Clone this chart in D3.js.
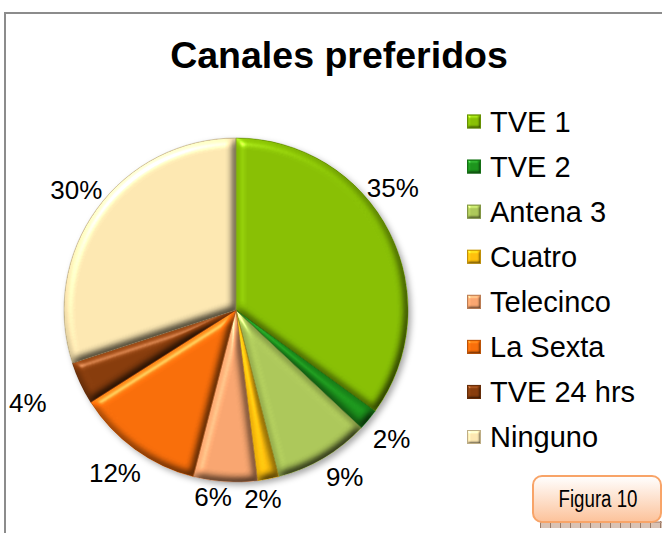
<!DOCTYPE html>
<html>
<head>
<meta charset="utf-8">
<script src="https://cdn.jsdelivr.net/npm/d3@7"></script>
<style>
  html, body { margin: 0; padding: 0; background: #fff; }
  svg { display: block; }
</style>
</head>
<body>
<svg id="chart" width="662" height="533"></svg>
<script>
// ---- data ----
const categories = ["TVE 1", "TVE 2", "Antena 3", "Cuatro", "Telecinco", "La Sexta", "TVE 24 hrs", "Ninguno"];
const values = [35, 2, 9, 2, 6, 12, 4, 30];
const percentLabels = ["35%", "2%", "9%", "2%", "6%", "12%", "4%", "30%"];
const colors = ["#88c004", "#1c941c", "#adc85a", "#ffc00c", "#f9a670", "#f96e0a", "#873c0c", "#fde8b2"];
const title = "Canales preferidos";
const figureTag = "Figura 10";

// ---- layout (label placement tweaks, degrees / px) ----
const labelAngleShift = [-11, 0, -2.5, 2.7, 3.4, 0.6, 1.2, 1];
const labelRadius = [199, 202, 199, 191, 188, 203, 228, 200];

const svg = d3.select("#chart");
const W = 662, H = 533;
const cx = 236, cy = 310, R = 172;

const defs = svg.append("defs");

// bevel filter for slices
function bevel(id, blur, scale) {
  const f = defs.append("filter").attr("id", id)
    .attr("x", "-5%").attr("y", "-5%").attr("width", "110%").attr("height", "110%")
    .attr("color-interpolation-filters", "sRGB");
  f.append("feGaussianBlur").attr("in", "SourceAlpha").attr("stdDeviation", blur).attr("result", "blur");
  const dl = f.append("feDiffuseLighting").attr("in", "blur").attr("surfaceScale", scale)
    .attr("diffuseConstant", 1).attr("lighting-color", "#ffffff").attr("result", "diff");
  dl.append("feDistantLight").attr("azimuth", 235).attr("elevation", 60);
  f.append("feComposite").attr("in", "SourceGraphic").attr("in2", "diff")
    .attr("operator", "arithmetic").attr("k1", 1.15).attr("k2", 0).attr("k3", 0).attr("k4", 0).attr("result", "lit");
  const sl = f.append("feSpecularLighting").attr("in", "blur").attr("surfaceScale", scale)
    .attr("specularConstant", 0.3).attr("specularExponent", 40).attr("lighting-color", "#ffffff").attr("result", "spec");
  sl.append("feDistantLight").attr("azimuth", 235).attr("elevation", 40);
  f.append("feComposite").attr("in", "spec").attr("in2", "SourceAlpha").attr("operator", "in").attr("result", "specIn");
  f.append("feComposite").attr("in", "lit").attr("in2", "specIn")
    .attr("operator", "arithmetic").attr("k1", 0).attr("k2", 1).attr("k3", 1).attr("k4", 0).attr("result", "sum");
  f.append("feComposite").attr("in", "sum").attr("in2", "SourceAlpha").attr("operator", "in");
}
bevel("bevel", 4, 5);
bevel("bevelSmall", 1.5, 2);

// drop shadow for the pie
const sh = defs.append("filter").attr("id", "shadow")
  .attr("x", "-10%").attr("y", "-10%").attr("width", "125%").attr("height", "125%");
sh.append("feDropShadow").attr("dx", 3).attr("dy", 3).attr("stdDeviation", 3)
  .attr("flood-color", "#000").attr("flood-opacity", 0.35);

// figure tag gradient
const g1 = defs.append("linearGradient").attr("id", "tagGrad").attr("x1", 0).attr("y1", 0).attr("x2", 0).attr("y2", 1);
g1.append("stop").attr("offset", "0%").attr("stop-color", "#ffffff");
g1.append("stop").attr("offset", "100%").attr("stop-color", "#fcc29a");

const pat = defs.append("pattern").attr("id", "strip").attr("width", 10).attr("height", 6)
  .attr("patternUnits", "userSpaceOnUse");
pat.append("rect").attr("width", 10).attr("height", 6).attr("fill", "#d9c2b4");
pat.append("line").attr("x1", 0.5).attr("x2", 0.5).attr("y1", 0).attr("y2", 6).attr("stroke", "#9b7a66").attr("stroke-width", 1);
pat.append("line").attr("x1", 0).attr("x2", 10).attr("y1", 0.5).attr("y2", 0.5).attr("stroke", "#b8998a").attr("stroke-width", 1);

// background + frame
svg.append("rect").attr("width", W).attr("height", H).attr("fill", "#fff");
svg.append("rect").attr("x", 5).attr("y", 13).attr("width", W + 20).attr("height", H + 20)
  .attr("fill", "none").attr("stroke", "#8c8c8c").attr("stroke-width", 2);

// title
svg.append("text").attr("x", 339).attr("y", 68).attr("text-anchor", "middle")
  .attr("font-family", "Liberation Sans, Arial, sans-serif").attr("font-weight", "bold")
  .attr("font-size", 37.5).attr("fill", "#000").text(title);

// pie
const pie = d3.pie().sort(null).value(d => d)(values);
const arc = d3.arc().innerRadius(0).outerRadius(R);
const gPie = svg.append("g").attr("transform", `translate(${cx},${cy})`);
const shadowG = gPie.append("g").attr("filter", "url(#shadow)");
shadowG.selectAll("path").data(pie).join("path")
  .attr("d", arc).attr("fill", (d, i) => colors[i]);
gPie.selectAll("path.slice").data(pie).join("path").attr("class", "slice")
  .attr("d", arc)
  .attr("fill", (d, i) => colors[i])
  .attr("filter", "url(#bevel)");
gPie.selectAll("path.edge").data(pie).join("path").attr("class", "edge")
  .attr("d", arc)
  .attr("fill", "none")
  .attr("stroke", (d, i) => d3.color(colors[i]).darker(1.2))
  .attr("stroke-opacity", 0.6)
  .attr("stroke-width", 0.8);

// percent labels
const labelArc = d3.arc();
gPie.selectAll("text.pct").data(pie).join("text").attr("class", "pct")
  .attr("transform", (d, i) => {
    const a = (d.startAngle + d.endAngle) / 2 + labelAngleShift[i] * Math.PI / 180;
    const c = labelArc.innerRadius(labelRadius[i]).outerRadius(labelRadius[i]).centroid({ startAngle: a, endAngle: a });
    return `translate(${c[0]},${c[1]})`;
  })
  .attr("text-anchor", "middle").attr("dy", "0.36em")
  .attr("font-family", "Liberation Sans, Arial, sans-serif").attr("font-size", 26).attr("fill", "#000")
  .text((d, i) => percentLabels[i]);

// legend
const legY = d3.scalePoint().domain(categories).range([121.5, 437]);
const leg = svg.append("g");
const items = leg.selectAll("g").data(categories).join("g")
  .attr("transform", d => `translate(467,${legY(d)})`);
items.append("rect").attr("x", 0).attr("y", -7).attr("width", 14).attr("height", 14)
  .attr("fill", (d, i) => colors[i]).attr("filter", "url(#bevelSmall)");
items.append("rect").attr("x", 0.5).attr("y", -6.5).attr("width", 13).attr("height", 13)
  .attr("fill", "none").attr("stroke", (d, i) => d3.color(colors[i]).darker(0.8)).attr("stroke-width", 1);
items.append("text").attr("x", 23).attr("y", 0).attr("dy", "0.36em")
  .attr("font-family", "Liberation Sans, Arial, sans-serif").attr("font-size", 29).attr("fill", "#000")
  .text(d => d);

// figure tag
svg.append("rect").attr("x", 540).attr("y", 521).attr("width", 130).attr("height", 7).attr("fill", "url(#strip)");
svg.append("rect").attr("x", 533).attr("y", 476).attr("width", 128).attr("height", 46).attr("rx", 9)
  .attr("fill", "url(#tagGrad)").attr("stroke", "#f8a468").attr("stroke-width", 2);
svg.append("text").attr("x", 598).attr("y", 499).attr("dy", "0.36em").attr("text-anchor", "middle")
  .attr("font-family", "Liberation Sans Narrow, Arial Narrow, Liberation Sans, sans-serif")
  .attr("font-size", 23).attr("fill", "#000")
  .attr("textLength", 79).attr("lengthAdjust", "spacingAndGlyphs")
  .text(figureTag);
</script>
</body>
</html>
